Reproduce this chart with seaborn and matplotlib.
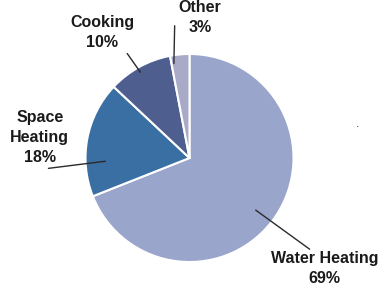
import numpy as np
import seaborn as sns
import matplotlib.pyplot as plt

###################
# Data
labels = ["Water Heating", "Space Heating", "Cooking", "Other"]
shares = [69, 18, 10, 3]
colors = ["#99a5ca", "#3a6fa3", "#4e5e8e", "#a9a9c8"]

# label layout: text position, leader start/end as (angle offset deg, radius)
text_pos = [(1.30, -1.06), (-1.44, 0.20), (-0.84, 1.21), (0.10, 1.35)]
leader_in = [(-4, 0.81), (13, 0.81), (1, 0.95), (4, 0.92)]
leader_out = [(-3, 1.45), (15, 1.36), (2, 1.17), (1, 1.28)]

###################
# Setup
sns.set_theme(style="white")
plt.rcParams["font.family"] = ["Liberation Sans", "DejaVu Sans"]

fig = plt.figure(figsize=(3.78, 2.90), dpi=100)
ax = fig.add_axes([0, 0, 1, 1])

wedges, _ = ax.pie(shares, colors=colors, startangle=90, counterclock=False,
                   wedgeprops=dict(edgecolor="white", linewidth=1.5))

###################
# Labels
for w, lab, val, tp, li, lo in zip(wedges, labels, shares, text_pos, leader_in, leader_out):
    mid = np.deg2rad((w.theta1 + w.theta2) / 2)
    a_in = mid + np.deg2rad(li[0])
    a_out = mid + np.deg2rad(lo[0])
    ax.plot([li[1] * np.cos(a_in), lo[1] * np.cos(a_out)],
            [li[1] * np.sin(a_in), lo[1] * np.sin(a_out)],
            color="#2a2a2a", linewidth=1.0)
    ax.text(tp[0], tp[1], f"{lab.replace('Space ', 'Space\n')}\n{val}%",
            ha="center", va="center", fontsize=11.5, color="#1a1a1a",
            fontweight="bold", linespacing=1.4)

ax.text(1.62, 0.33, ".", ha="center", va="center", fontsize=9, color="#333333")

ax.set_xlim(-189.5 / 104, 188.5 / 104)
ax.set_ylim(-132 / 104, 158 / 104)
ax.set_axis_off()

###################
# Export
fig.savefig("out.png", dpi=100)
